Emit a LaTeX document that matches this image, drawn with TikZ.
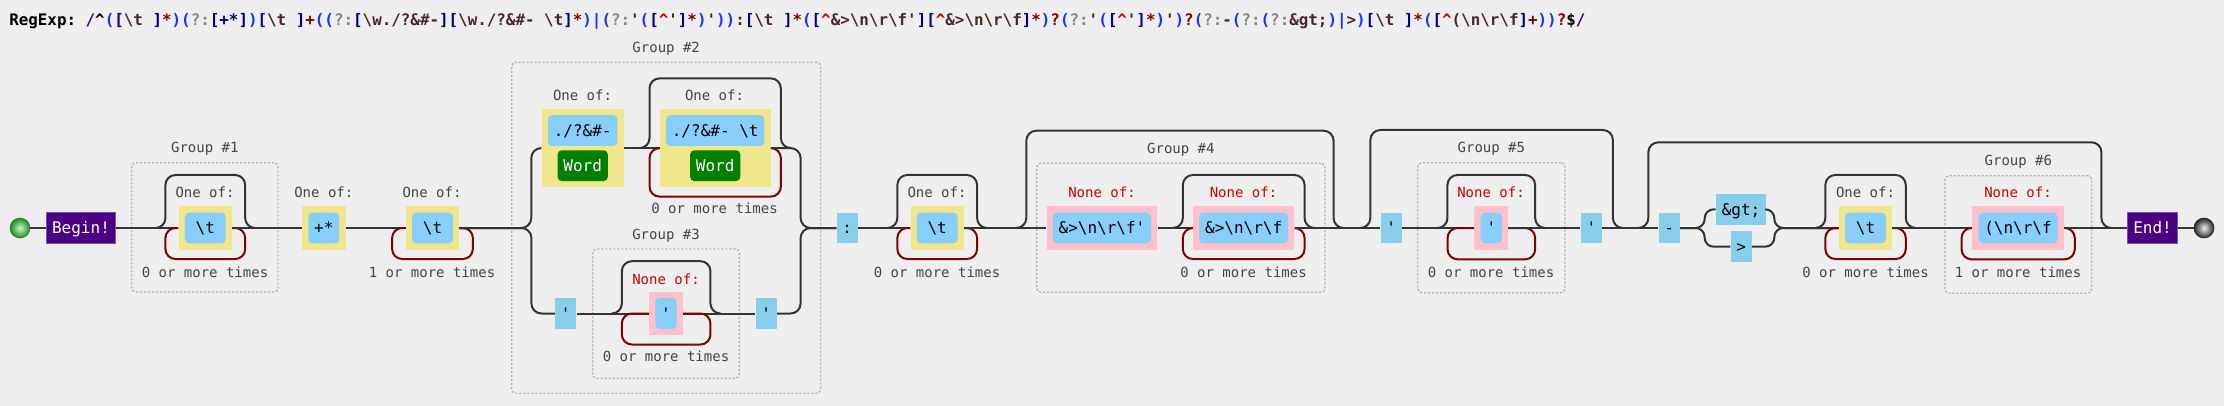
\documentclass[tikz,border=0pt]{standalone}
\usepackage{fontspec}
\setmonofont{DejaVu Sans Mono}
\usepackage{xcolor}
\usepackage{tikz}
\usetikzlibrary{positioning,calc,fit,backgrounds}

\definecolor{bgc}{RGB}{238,238,238}
\definecolor{linec}{RGB}{51,51,51}
\definecolor{loopc}{RGB}{128,0,0}
\definecolor{khaki}{RGB}{240,230,140}
\definecolor{lsblue}{RGB}{135,206,250}
\definecolor{skyb}{RGB}{135,206,235}
\definecolor{pinkc}{RGB}{255,192,203}
\definecolor{wordc}{RGB}{0,128,0}
\definecolor{anchorc}{RGB}{75,0,130}
\definecolor{anchorl}{RGB}{120,80,170}
\definecolor{lblc}{RGB}{68,68,68}
\definecolor{nonec}{RGB}{204,0,0}
\definecolor{grpc}{RGB}{175,175,175}
\definecolor{startin}{RGB}{205,245,205}
\definecolor{startout}{RGB}{30,140,30}
\definecolor{endin}{RGB}{240,240,240}
\definecolor{endout}{RGB}{40,40,40}
\definecolor{rxdelim}{RGB}{75,0,130}
\definecolor{rxgrp}{RGB}{20,50,255}
\definecolor{rxnc}{RGB}{136,136,136}
\definecolor{rxcls}{RGB}{0,0,128}
\definecolor{rxlit}{RGB}{77,40,40}
\definecolor{rxq}{RGB}{128,0,0}
\definecolor{rxneg}{RGB}{204,0,0}

\newcommand{\rxbs}{\textbackslash}
\newcommand{\rxca}{\textasciicircum}

\begin{document}
\begin{tikzpicture}[x=0.75pt, y=-0.75pt,
    wire/.style={draw=linec, line width=1.5pt, rounded corners=7.5pt},
    loopline/.style={draw=loopc, line width=1.5pt, rounded corners=7.5pt},
    boxtext/.style={font=\ttfamily\fontsize{12}{14}\selectfont, minimum height=23pt, text height=8.8pt, text depth=0pt, inner xsep=4.35pt, inner ysep=0pt},
    lit/.style={boxtext, fill=skyb},
    chin/.style={boxtext, fill=lsblue, rounded corners=3pt},
    word/.style={boxtext, fill=wordc, text=white, rounded corners=3pt},
    oneof/.style={fill=khaki, inner sep=4.5pt},
    noneof/.style={fill=pinkc, inner sep=4.5pt},
    anch/.style={boxtext, fill=anchorc, draw=anchorl, line width=0.75pt, text=white},
    lbl/.style={font=\ttfamily\fontsize{10.5}{12}\selectfont, text=lblc, anchor=base, inner sep=0pt},
    nlbl/.style={lbl, text=nonec},
    grp/.style={draw=grpc, line width=1pt, dash pattern=on 1.5pt off 1.5pt, rounded corners=3pt, inner sep=0pt},
    startc/.style={circle, minimum size=15pt, inner sep=0pt, draw=startout, line width=0.5pt, inner color=startin, outer color=startout},
    endc/.style={circle, minimum size=15pt, inner sep=0pt, draw=endout, line width=0.5pt, inner color=endin, outer color=endout}]
    \begin{scope}[on background layer]
        \fill[bgc] (0,0) rectangle (2224,406);
    \end{scope}
    \useasboundingbox (0,0) rectangle (2224,406);

    \node[anchor=base west, inner sep=0pt, font=\ttfamily\bfseries\fontsize{11.9}{14}\selectfont] (title) at (9,25.7) {RegExp: %
\textcolor{rxdelim}{/}\rxca%
\textcolor{rxgrp}{(}\textcolor{rxcls}{[}\textcolor{rxlit}{\rxbs t }\textcolor{rxcls}{]}\textcolor{rxq}{*}\textcolor{rxgrp}{)}%
\textcolor{rxgrp}{(}\textcolor{rxnc}{?:}\textcolor{rxcls}{[+*]}\textcolor{rxgrp}{)}%
\textcolor{rxcls}{[}\textcolor{rxlit}{\rxbs t }\textcolor{rxcls}{]}\textcolor{rxq}{+}%
\textcolor{rxgrp}{((}\textcolor{rxnc}{?:}\textcolor{rxcls}{[}\textcolor{rxlit}{\rxbs w./?\&\#-}\textcolor{rxcls}{][}\textcolor{rxlit}{\rxbs w./?\&\#- \rxbs t}\textcolor{rxcls}{]}\textcolor{rxq}{*}\textcolor{rxgrp}{)|(}\textcolor{rxnc}{?:}\textcolor{rxlit}{'}\textcolor{rxgrp}{(}\textcolor{rxcls}{[}\textcolor{rxneg}{\rxca}\textcolor{rxlit}{'}\textcolor{rxcls}{]}\textcolor{rxq}{*}\textcolor{rxgrp}{)}\textcolor{rxlit}{'}\textcolor{rxgrp}{))}%
\textcolor{rxlit}{:}%
\textcolor{rxcls}{[}\textcolor{rxlit}{\rxbs t }\textcolor{rxcls}{]}\textcolor{rxq}{*}%
\textcolor{rxgrp}{(}\textcolor{rxcls}{[}\textcolor{rxneg}{\rxca}\textcolor{rxlit}{\&>\rxbs n\rxbs r\rxbs f'}\textcolor{rxcls}{][}\textcolor{rxneg}{\rxca}\textcolor{rxlit}{\&>\rxbs n\rxbs r\rxbs f}\textcolor{rxcls}{]}\textcolor{rxq}{*}\textcolor{rxgrp}{)}\textcolor{rxq}{?}%
\textcolor{rxgrp}{(}\textcolor{rxnc}{?:}\textcolor{rxlit}{'}\textcolor{rxgrp}{(}\textcolor{rxcls}{[}\textcolor{rxneg}{\rxca}\textcolor{rxlit}{'}\textcolor{rxcls}{]}\textcolor{rxq}{*}\textcolor{rxgrp}{)}\textcolor{rxlit}{'}\textcolor{rxgrp}{)}\textcolor{rxq}{?}%
\textcolor{rxgrp}{(}\textcolor{rxnc}{?:}\textcolor{rxlit}{-}\textcolor{rxgrp}{(}\textcolor{rxnc}{?:}\textcolor{rxgrp}{(}\textcolor{rxnc}{?:}\textcolor{rxlit}{\&gt;}\textcolor{rxgrp}{)|}\textcolor{rxlit}{>}\textcolor{rxgrp}{)}%
\textcolor{rxcls}{[}\textcolor{rxlit}{\rxbs t }\textcolor{rxcls}{]}\textcolor{rxq}{*}%
\textcolor{rxgrp}{(}\textcolor{rxcls}{[}\textcolor{rxneg}{\rxca}\textcolor{rxlit}{(\rxbs n\rxbs r\rxbs f}\textcolor{rxcls}{]}\textcolor{rxq}{+}\textcolor{rxgrp}{))}\textcolor{rxq}{?}%
\$\textcolor{rxdelim}{/}};

    \node[startc] (s) at (20,228) {};
    \node[anch] (begin) at (81,228) {Begin!};
    \node[chin, minimum width=30.5pt] (c1t) at (205.3,228) {\rxbs t};
    \node[chin] (c2t) at (323.8,228) {+*};
    \node[chin, minimum width=30.5pt] (c3t) at (432.5,228) {\rxbs t};
    \node[chin] (a1t) at (582.7,130.5) {./?\&\#-};
    \node[word] (a1w) at (582.7,165.7) {Word};
    \node[chin] (a2t) at (715.2,130.5) {./?\&\#- \rxbs t};
    \node[word] (a2w) at (715.2,165.7) {Word};
    \node[lit] (q1) at (565.8,313.5) {'};
    \node[chin] (p3t) at (666,313.5) {'};
    \node[lit] (q2) at (766.2,313.5) {'};
    \node[lit] (colon) at (847.2,228) {:};
    \node[chin, minimum width=30.5pt] (t1t) at (937.2,228) {\rxbs t};
    \node[chin] (n1t) at (1102,228) {\&>\rxbs n\rxbs r\rxbs f'};
    \node[chin] (n2t) at (1243.7,228) {\&>\rxbs n\rxbs r\rxbs f};
    \node[lit] (q3) at (1391.2,228) {'};
    \node[chin] (n3t) at (1491.3,228) {'};
    \node[lit] (q4) at (1591.3,228) {'};
    \node[lit] (dash) at (1669.2,228) {-};
    \node[lit] (gt) at (1741,209.3) {\&gt;};
    \node[lit] (gtc) at (1741.2,246.7) {>};
    \node[chin, minimum width=30.5pt] (t2t) at (1865.5,228) {\rxbs t};
    \node[chin] (n4t) at (2018,228) {(\rxbs n\rxbs r\rxbs f};
    \node[anch] (finish) at (2152.5,228) {End!};
    \node[endc] (e) at (2204,228) {};

    \begin{scope}[on background layer]
        \node[oneof, fit=(c1t)] (c1) {};
        \node[oneof, fit=(c2t)] (c2) {};
        \node[oneof, fit=(c3t)] (c3) {};
        \node[oneof, fit=(a1t)(a1w)] (a1) {};
        \node[oneof, fit=(a2t)(a2w)] (a2) {};
        \node[noneof, fit=(p3t)] (p3) {};
        \node[oneof, fit=(t1t)] (t1) {};
        \node[noneof, fit=(n1t)] (n1) {};
        \node[noneof, fit=(n2t)] (n2) {};
        \node[noneof, fit=(n3t)] (n3) {};
        \node[oneof, fit=(t2t)] (t2) {};
        \node[noneof, fit=(n4t)] (n4) {};
    \end{scope}

    \node[grp, fit={(131.7,162.7) (278,292)}] (g1) {};
    \node[grp, fit={(511.7,62.3) (820.7,393.3)}] (g2) {};
    \node[grp, fit={(592.7,249) (739.3,378.3)}] (g3) {};
    \node[grp, fit={(1036.7,163.3) (1325,292.3)}] (g4) {};
    \node[grp, fit={(1417.7,162.7) (1565,292.7)}] (g5) {};
    \node[grp, fit={(1945,175.7) (2091.7,293.3)}] (g6) {};
    \node[lbl] (g1l) at ([yshift=7pt]g1.north) {Group \#1};
    \node[lbl] (g2l) at ([yshift=7pt]g2.north) {Group \#2};
    \node[lbl] (g3l) at ([yshift=7pt]g3.north) {Group \#3};
    \node[lbl] (g4l) at ([yshift=7pt]g4.north) {Group \#4};
    \node[lbl] (g5l) at ([yshift=7pt]g5.north) {Group \#5};
    \node[lbl] (g6l) at ([yshift=7pt]g6.north) {Group \#6};

    \node[lbl] (c1l) at (205,198) {One of:};
    \node[lbl] (c1r) at (205,277) {0 or more times};
    \node[lbl] (c2l) at (323.8,198) {One of:};
    \node[lbl] (c3l) at (432,198) {One of:};
    \node[lbl] (c3r) at (432,277) {1 or more times};
    \node[lbl] (a1l) at (582.5,101) {One of:};
    \node[lbl] (a2l) at (714.5,101) {One of:};
    \node[lbl] (a2r) at (714.5,214) {0 or more times};
    \node[nlbl] (p3l) at (666,284) {None of:};
    \node[lbl] (p3r) at (666,361.7) {0 or more times};
    \node[lbl] (t1l) at (937,198) {One of:};
    \node[lbl] (t1r) at (937,277) {0 or more times};
    \node[nlbl] (n1l) at (1102,198) {None of:};
    \node[nlbl] (n2l) at (1243.5,198) {None of:};
    \node[lbl] (n2r) at (1243.5,277) {0 or more times};
    \node[nlbl] (n3l) at (1491,198) {None of:};
    \node[lbl] (n3r) at (1491,277) {0 or more times};
    \node[lbl] (t2l) at (1865.5,198) {One of:};
    \node[lbl] (t2r) at (1865.5,277) {0 or more times};
    \node[nlbl] (n4l) at (2018,198) {None of:};
    \node[lbl] (n4r) at (2018,277) {1 or more times};

    \draw[wire] (s) -- (begin.west);
    \draw[wire] (begin.east) -- (c1.west);
    \draw[wire] ($(c1.west)+(-23,0)$) -| ++(10,-53) -| ($(c1.east)+(13,0)$) -- ++(10,0);
    \draw[loopline] (c1.east) -| ++(13,31) -| ($(c1.west)+(-13,0)$) -- (c1.west);
    \draw[wire] (c1.east) -- (c2.west);
    \draw[wire] (c2.east) -- (c3.west);
    \draw[loopline] (c3.east) -| ++(13.5,31) -| ($(c3.west)+(-13.5,0)$) -- (c3.west);

    \draw[wire] (c3.east) -| ($(a1.west)+(-10.2,0)$) -- (a1.west);
    \draw[wire] (c3.east) -| ($(q1.west)+(-23.5,0)$) -- (q1.west);
    \draw[wire] (a1.east) -- (a2.west);
    \draw[wire] ($(a2.west)+(-20,0)$) -| ++(10,-69.7) -| ($(a2.east)+(10,0)$) -- ++(10,0);
    \draw[loopline] (a2.east) -| ++(10,48.5) -| ($(a2.west)+(-10,0)$) -- (a2.west);
    \draw[wire] (a2.east) -| ($(colon.west)+(-35.7,0)$) -- (colon.west);
    \draw[wire] (q1.east) -- (p3.west);
    \draw[wire] (p3.east) -- (q2.west);
    \draw[wire] ($(p3.west)+(-37,0)$) -| ++(10,-52.3) -| ($(p3.east)+(27.3,0)$) -- ++(10,0);
    \draw[loopline] (p3.east) -| ++(27.3,31) -| ($(p3.west)+(-27,0)$) -- (p3.west);
    \draw[wire] (q2.east) -| ($(colon.west)+(-35.7,0)$) -- (colon.west);

    \draw[wire] (colon.east) -- (t1.west);
    \draw[wire] ($(t1.west)+(-23,0)$) -| ++(10,-53) -| ($(t1.east)+(13,0)$) -- ++(10,0);
    \draw[loopline] (t1.east) -| ++(13,31) -| ($(t1.west)+(-13,0)$) -- (t1.west);
    \draw[wire] (t1.east) -- (n1.west);
    \draw[wire] ($(n1.west)+(-30,0)$) -| ++(10,-97.3) -| ($(n2.east)+(39,0)$) -- ++(10,0);
    \draw[wire] (n1.east) -- (n2.west);
    \draw[wire] ($(n2.west)+(-20,0)$) -| ++(10,-53) -| ($(n2.east)+(10,0)$) -- ++(10,0);
    \draw[loopline] (n2.east) -| ++(10,31) -| ($(n2.west)+(-10,0)$) -- (n2.west);
    \draw[wire] (n2.east) -- (q3.west);
    \draw[wire] ($(q3.west)+(-20,0)$) -| ++(10,-98) -| ($(q4.east)+(10.7,0)$) -- ++(10,0);
    \draw[wire] (q3.east) -- (n3.west);
    \draw[wire] ($(n3.west)+(-36.7,0)$) -| ++(10,-53) -| ($(n3.east)+(26.7,0)$) -- ++(10,0);
    \draw[loopline] (n3.east) -| ++(26.7,31.3) -| ($(n3.west)+(-26.6,0)$) -- (n3.west);
    \draw[wire] (n3.east) -- (q4.west);

    \draw[wire] (q4.east) -- (dash.west);
    \draw[wire] ($(dash.west)+(-20,0)$) -| ++(10,-85.7) -| ($(n4.east)+(37.4,0)$) -- ++(10,0);
    \draw[wire, rounded corners=6.75pt] (dash.east) -| ($(gt.west)+(-11,0)$) -- (gt.west);
    \draw[wire, rounded corners=6.75pt] (dash.east) -| ($(gtc.west)+(-25.7,0)$) -- (gtc.west);
    \draw[wire, rounded corners=6.75pt] (gt.east) -| ($(t2.west)+(-64.3,0)$) -- (t2.west);
    \draw[wire, rounded corners=6.75pt] (gtc.east) -| ($(t2.west)+(-64.3,0)$) -- (t2.west);
    \draw[wire] ($(t2.west)+(-23.3,0)$) -| ++(10,-53) -| ($(t2.east)+(13.4,0)$) -- ++(10,0);
    \draw[loopline] (t2.east) -| ++(13.4,31) -| ($(t2.west)+(-13.3,0)$) -- (t2.west);
    \draw[wire] (t2.east) -- (n4.west);
    \draw[loopline] (n4.east) -| ++(10.7,31.3) -| ($(n4.west)+(-10.4,0)$) -- (n4.west);
    \draw[wire] (n4.east) -- (finish.west);
    \draw[wire] (finish.east) -- (e);
\end{tikzpicture}
\end{document}
